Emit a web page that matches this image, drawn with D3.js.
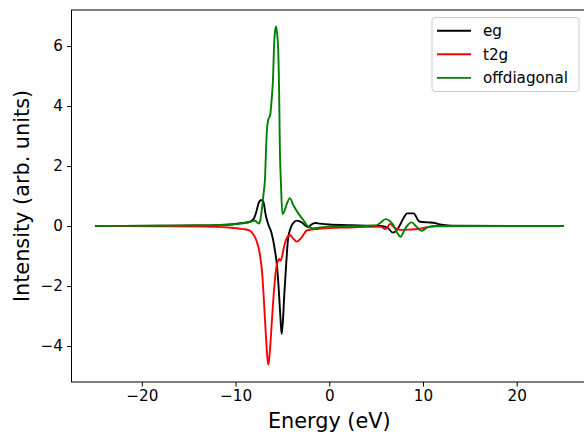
<!DOCTYPE html>
<html><head><meta charset="utf-8">
<script src="https://cdn.jsdelivr.net/npm/d3@7"></script>
<style>body{margin:0;background:#fff}svg{display:block}text{font-family:"DejaVu Sans",sans-serif}</style>
</head><body><svg id="c" width="584" height="439"></svg>
<script>
const seriesNames = ["eg", "t2g", "offdiagonal"];
const seriesColors = ["#000000", "#ff0000", "#008000"];
const xTicks = [-20, -10, 0, 10, 20];
const yTicks = [-4, -2, 0, 2, 4, 6];

const egE = [-25,-18,-14,-12,-10.5,-9.5,-9,-8.5,-8.1,-7.8,-7.55,-7.3,-7.1,-6.95,-6.8,-6.5,-6.15,-5.8,-5.55,-5.35,-5.2,-5.08,-4.95,-4.8,-4.6,-4.4,-4.1,-3.84,-3.48,-2.94,-2.5,-2.24,-1.9,-1.5,-1.0,0,2,4,5.5,6.2,6.8,7.3,7.9,8.3,9.0,9.6,10.5,11.1,11.8,13,25];
const egI = [0,0.01,0.02,0.03,0.05,0.09,0.11,0.14,0.22,0.45,0.75,0.86,0.86,0.7,0.4,0.05,-0.24,-0.8,-1.4,-2.3,-3.1,-3.6,-3.2,-2.3,-1.3,-0.45,-0.05,0.1,0.18,0.12,0.0,-0.04,0.05,0.1,0.08,0.05,0.03,0.01,0,-0.05,-0.22,-0.1,0.25,0.42,0.42,0.15,0.12,0.11,0.05,0.01,0];

const t2gE = [-25,-18,-14,-12,-10.5,-9.5,-9,-8.45,-8.1,-7.75,-7.4,-7.15,-6.95,-6.75,-6.6,-6.5,-6.4,-6.25,-6.15,-6.0,-5.8,-5.6,-5.45,-5.33,-5.2,-5.05,-4.9,-4.55,-4.2,-3.84,-3.48,-2.94,-2.4,-1.9,-1.35,0,2,4,5.5,6.0,6.5,7.0,7.5,8.5,9.5,10.3,11.2,25];
const t2gI = [0,-0.01,-0.02,-0.03,-0.06,-0.09,-0.11,-0.16,-0.28,-0.5,-0.95,-1.6,-2.6,-3.7,-4.4,-4.62,-4.4,-3.8,-3.3,-2.6,-1.8,-1.3,-1.15,-1.1,-1.15,-1.05,-0.8,-0.41,-0.3,-0.42,-0.52,-0.38,-0.15,-0.12,-0.1,-0.07,-0.05,-0.03,-0.03,-0.1,0.07,-0.06,-0.13,-0.12,-0.1,-0.05,-0.01,0];

const offE = [-25,-18,-14,-12,-10.5,-9.5,-9,-8.5,-8.1,-7.9,-7.7,-7.5,-7.35,-7.2,-7.0,-6.85,-6.75,-6.65,-6.5,-6.3,-6.15,-6.0,-5.9,-5.8,-5.69,-5.6,-5.45,-5.35,-5.27,-5.15,-5.0,-4.85,-4.55,-4.2,-3.84,-3.3,-2.77,-2.24,-1.7,-1.0,0,2,4,5,5.4,6.0,6.4,6.8,7.2,7.6,8.0,8.25,8.8,9.3,9.85,10.6,11.5,25];
const offI = [0,0.01,0.02,0.03,0.05,0.08,0.1,0.13,0.17,0.18,0.12,0.08,0.2,0.53,1.1,1.6,2.5,3.2,3.55,3.7,4.2,4.9,5.9,6.45,6.65,6.5,5.9,4.5,2.6,1.4,0.4,0.45,0.72,0.93,0.7,0.42,0.2,-0.02,-0.08,-0.05,-0.02,-0.01,0,0.02,0.09,0.23,0.18,0.05,-0.2,-0.36,-0.15,-0.02,0.12,-0.02,-0.16,-0.03,0,0];

const series = [[egE, egI], [t2gE, t2gI], [offE, offI]];

const svg = d3.select("#c");
const L = 71.5, R = 587, T = 10, B = 382;
const x = d3.scaleLinear().domain([-27.5, 27.5]).range([L, R]);
const y = d3.scaleLinear().domain([-5.2, 7.2]).range([B, T]);

const line = d3.line().x(d => x(d[0])).y(d => y(d[1])).curve(d3.curveMonotoneX);
series.forEach((s, i) => {
  const pts = s[0].map((e, j) => [e, s[1][j]]);
  svg.append("path").datum(pts).attr("d", line)
    .attr("fill", "none").attr("stroke", seriesColors[i]).attr("stroke-width", 1.9)
    .attr("stroke-linejoin", "round");
});

// frame
svg.append("rect").attr("x", L).attr("y", T).attr("width", R - L).attr("height", B - T)
  .attr("fill", "none").attr("stroke", "#000").attr("stroke-width", 1);

const fmt = d3.format("d");
const xAxis = svg.append("g").attr("transform", `translate(0,${B})`)
  .call(d3.axisBottom(x).tickValues(xTicks).tickFormat(fmt).tickSize(4.5).tickPadding(4));
const yAxis = svg.append("g").attr("transform", `translate(${L},0)`)
  .call(d3.axisLeft(y).tickValues(yTicks).tickFormat(fmt).tickSize(4.5).tickPadding(4));
[xAxis, yAxis].forEach(a => {
  a.select(".domain").remove();
  a.selectAll("text").attr("font-size", 15.2).attr("font-family", "DejaVu Sans").attr("fill", "#000");
  a.selectAll("line").attr("stroke", "#000");
});

svg.append("text").attr("x", (L + R) / 2 ).attr("y", 428).attr("text-anchor", "middle")
  .attr("font-size", 20.8).text("Energy (eV)");
svg.append("text").attr("transform", `translate(28.5,196) rotate(-90)`).attr("text-anchor", "middle")
  .attr("font-size", 20.8).text("Intensity (arb. units)");

// legend
const lg = svg.append("g");
lg.append("rect").attr("x", 432).attr("y", 17.5).attr("width", 147).attr("height", 74).attr("rx", 3)
  .attr("fill", "#fff").attr("fill-opacity", 0.8).attr("stroke", "#cccccc").attr("stroke-width", 1);
seriesNames.forEach((n, i) => {
  const cy = 30.7 + i * 23.6;
  lg.append("line").attr("x1", 437).attr("x2", 471).attr("y1", cy).attr("y2", cy)
    .attr("stroke", seriesColors[i]).attr("stroke-width", 1.9);
  lg.append("text").attr("x", 483).attr("y", cy + 5.3).attr("font-size", 15.2).text(n);
});
</script></body></html>
